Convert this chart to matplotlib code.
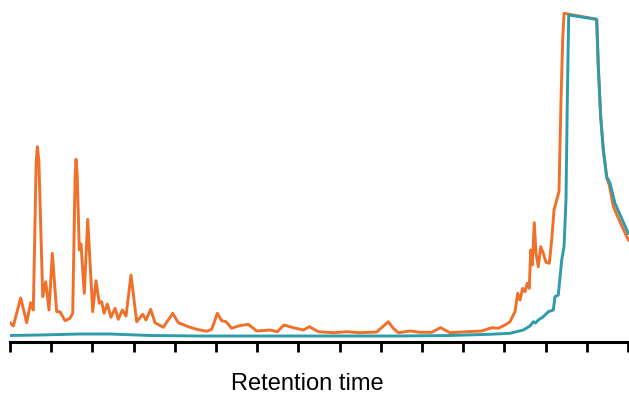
import matplotlib
matplotlib.use('Agg')
from matplotlib import pyplot as plt

plt.rcParams['font.family'] = ['Liberation Sans', 'DejaVu Sans']

# 시료 크로마토그램 (주황) - 머무름 시간 / 신호 (임의 단위)
sample_time = [
    0.000, 0.080, 0.260, 0.405, 0.502, 0.566, 0.635, 0.663, 0.700, 0.794, 0.867, 0.947,
    1.027, 1.133, 1.214, 1.335, 1.456, 1.522, 1.580, 1.602, 1.630, 1.682, 1.723, 1.803,
    1.886, 2.007, 2.087, 2.167, 2.226, 2.282, 2.362, 2.451, 2.549, 2.629,
    2.726, 2.816, 2.937, 3.075, 3.221, 3.301, 3.415, 3.519, 3.721, 3.949,
    4.085, 4.328, 4.532, 4.774, 4.896, 5.032, 5.138, 5.243, 5.381, 5.541,
    5.784, 5.988, 6.311, 6.488, 6.650, 6.876, 7.119, 7.265, 7.483, 7.847,
    8.172, 8.495, 8.900, 9.046, 9.182, 9.303, 9.425, 9.709, 9.951, 10.235,
    10.454, 10.680, 11.085, 11.449, 11.692, 11.852, 12.015, 12.136, 12.257, 12.323,
    12.379, 12.444, 12.500, 12.556, 12.604, 12.638, 12.677, 12.726, 12.767, 12.823,
    12.881, 12.944, 13.010, 13.090, 13.148, 13.204, 13.269, 13.325, 13.374, 13.415,
    13.447, 14.240, 14.279, 14.337, 14.401, 14.483, 14.546, 14.644, 14.806, 15.007,
]
sample_signal = [
    19.3, 16.0, 44.0, 19.3, 39.3, 32.0, 180.0, 195.3, 182.0, 45.3, 60.3, 32.0,
    88.7, 30.3, 30.3, 21.3, 23.7, 28.7, 165.0, 182.7, 168.0, 92.0, 98.0, 48.7,
    122.7, 30.3, 61.3, 38.7, 40.3, 28.7, 38.0, 24.7, 33.7, 22.7,
    32.0, 26.0, 67.0, 20.3, 27.7, 22.0, 32.7, 19.3, 14.7, 28.7,
    19.3, 15.3, 12.7, 10.7, 12.7, 28.7, 21.3, 20.3, 13.7, 16.0,
    17.7, 11.0, 12.0, 10.3, 17.0, 14.3, 12.0, 15.3, 10.3, 9.3,
    10.3, 9.3, 10.0, 15.3, 20.3, 13.7, 9.3, 11.0, 9.7, 9.7,
    14.3, 9.3, 10.3, 11.0, 14.3, 13.7, 17.0, 20.3, 30.3, 48.7,
    42.0, 53.7, 50.3, 58.7, 53.7, 92.0, 77.0, 119.3, 88.7, 75.3,
    95.3, 88.7, 79.7, 78.7, 102.0, 132.0, 142.0, 150.3, 242.0, 302.0,
    328.7, 322.7, 275.3, 225.3, 192.0, 164.0, 157.0, 135.3, 120.0, 102.0,
]

# 공시료 (청록)
blank_time = [
    0.000, 0.728, 1.699, 2.427, 3.398, 4.612, 7.039, 9.466, 10.680, 11.650,
    12.136, 12.459, 12.621, 12.701, 12.755, 12.823, 12.944, 13.066, 13.187, 13.228,
    13.308, 13.391, 13.447, 13.495, 13.527, 13.561, 14.240, 14.279, 14.337, 14.401,
    14.483, 14.563, 14.684, 15.007,
]
blank_signal = [
    6.5, 7.0, 8.0, 8.0, 6.5, 6.0, 6.0, 6.0, 6.5, 7.7,
    8.7, 12.0, 16.0, 20.3, 19.0, 22.0, 25.3, 30.3, 32.0, 45.3,
    47.0, 82.0, 95.3, 142.0, 242.0, 327.0, 322.7, 275.3, 225.3, 192.0,
    165.3, 158.7, 138.7, 108.7,
]

tick_pos = list(range(16))

fig = plt.figure(figsize=(6.29, 3.98), dpi=100)
ax = fig.add_axes([10 / 629, 1 - 342 / 398, 1 - 10 / 629, 342 / 398])

ax.plot(sample_time, sample_signal, color='#F0702A', linewidth=2.1, solid_joinstyle='round')
ax.plot(blank_time, blank_signal, color='#2E9BAB', linewidth=2.1, solid_joinstyle='round')

ax.set_xlim(0, 619 / 41.2)
ax.set_ylim(0, 342)
ax.set_xticks(tick_pos)
ax.set_xticklabels([])
ax.set_yticks([])
for side in ['top', 'right', 'left']:
    ax.spines[side].set_visible(False)
ax.spines['bottom'].set_linewidth(2.2)
ax.tick_params(axis='x', direction='out', length=7.5, width=2.0)

fig.text(307 / 629, 1 - 384 / 398, 'Retention time', fontsize=17,
         ha='center', va='center')

fig.savefig('out.png', dpi=100)
